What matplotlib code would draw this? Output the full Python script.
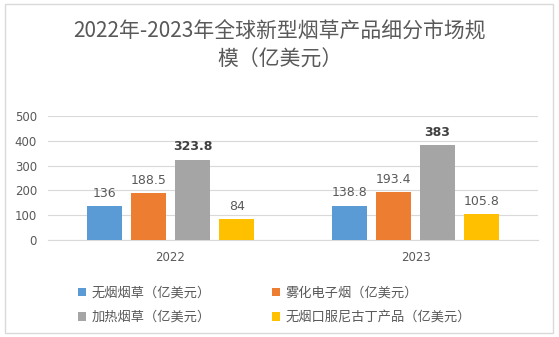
import matplotlib.pyplot as plt
from matplotlib.patches import Patch, Rectangle
import numpy as np

plt.rcParams['font.family'] = ['Noto Sans CJK SC', 'DejaVu Sans']

years = ['2022', '2023']
series_names = ['无烟烟草（亿美元）', '雾化电子烟（亿美元）', '加热烟草（亿美元）', '无烟口服尼古丁产品（亿美元）']
smokeless = [136, 138.8]
vapor = [188.5, 193.4]
heated = [323.8, 383]
oral_nicotine = [84, 105.8]
label_text = [['136', '138.8'], ['188.5', '193.4'], ['323.8', '383'], ['84', '105.8']]
y_ticks = [0, 100, 200, 300, 400, 500]

colors = ['#5b9bd5', '#ed7d31', '#a5a5a5', '#ffc000']
text_color = '#595959'

fig = plt.figure(figsize=(5.59, 3.37), dpi=100)
fig.patches.append(Rectangle((5 / 559, 4 / 337), 548 / 559, 329 / 337, transform=fig.transFigure,
                             fill=False, edgecolor='#d9d9d9', linewidth=1))

ax = fig.add_axes([48 / 559, 1 - 240 / 337, 490 / 559, 124 / 337])

x = np.arange(len(years))
width = 0.143
step = 0.18
all_series = [smokeless, vapor, heated, oral_nicotine]
handles = []
for i, values in enumerate(all_series):
    offs = (i - 1.5) * step
    bars = ax.bar(x + offs, values, width, color=colors[i], zorder=3)
    handles.append(Patch(facecolor=colors[i], label=series_names[i]))
    for j, b in enumerate(bars):
        bold = i == 2
        ax.annotate(label_text[i][j], (b.get_x() + b.get_width() / 2, b.get_height()),
                    xytext=(0, 4.5), textcoords='offset points', ha='center', va='bottom',
                    fontsize=9, family='DejaVu Sans',
                    fontweight='bold' if bold else 'normal',
                    color='#404040' if bold else text_color)

ax.set_xlim(-0.5, 1.5)
ax.set_ylim(0, 500)
ax.set_yticks(y_ticks)
ax.set_xticks(x)
ax.set_xticklabels(years)
ax.grid(axis='y', color='#d9d9d9', linewidth=0.8, zorder=0)
for s in ['top', 'right', 'left']:
    ax.spines[s].set_visible(False)
ax.spines['bottom'].set_color('#d9d9d9')
ax.tick_params(axis='both', length=0, labelsize=8.5, labelcolor=text_color, pad=8)
for lab in ax.get_xticklabels() + ax.get_yticklabels():
    lab.set_family('DejaVu Sans')

fig.text(0.5, 1 - 32 / 337, '2022年-2023年全球新型烟草产品细分市场规', ha='center', va='center',
         fontsize=15, color=text_color)
fig.text(0.5, 1 - 60 / 337, '模（亿美元）', ha='center', va='center',
         fontsize=15, color=text_color)

order = [0, 2, 1, 3]
fig.legend([handles[k] for k in order], [series_names[k] for k in order], ncol=2,
           loc='upper left', bbox_to_anchor=(66 / 559, 1 - 275 / 337), frameon=False,
           fontsize=9.5, labelcolor=text_color, handlelength=0.6, handleheight=0.6,
           handletextpad=0.45, columnspacing=4.6, labelspacing=0.85)

fig.savefig('out.png', dpi=100)
